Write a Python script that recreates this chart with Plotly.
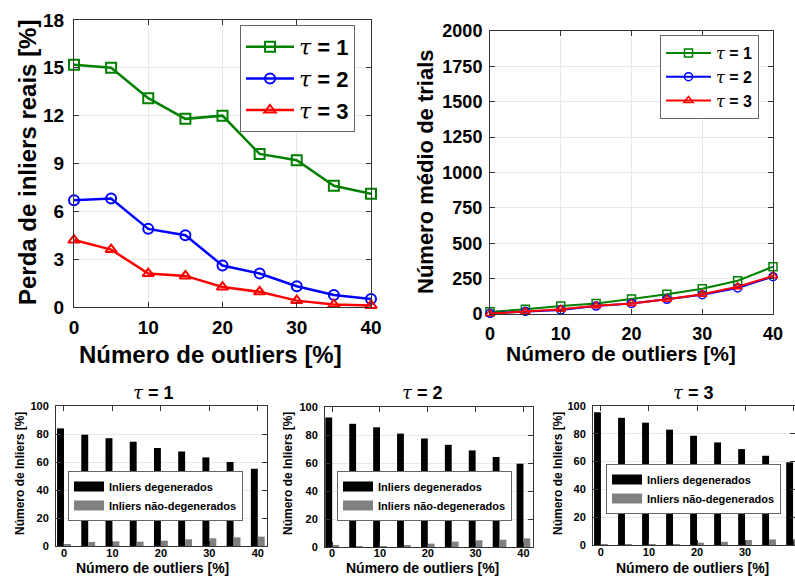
import plotly.graph_objects as go

# ---------------- data ----------------
outliers = [0, 5, 10, 15, 20, 25, 30, 35, 40]

loss_t1 = [15.2, 15.0, 13.1, 11.8, 12.0, 9.6, 9.2, 7.6, 7.1]
loss_t2 = [6.7, 6.8, 4.9, 4.5, 2.6, 2.1, 1.3, 0.75, 0.5]
loss_t3 = [4.2, 3.6, 2.1, 1.95, 1.25, 0.95, 0.4, 0.15, 0.1]

trials_t1 = [16, 33, 56, 75, 106, 139, 179, 235, 334]
trials_t2 = [5, 19, 28, 56, 75, 104, 136, 184, 264]
trials_t3 = [3, 16, 33, 59, 75, 104, 139, 193, 268]

deg_t1 = [84, 79.5, 77, 74.5, 70, 67.5, 63.3, 60, 55.2]
non_t1 = [1.4, 2.9, 3.3, 3.1, 3.8, 4.8, 5.5, 6.2, 6.7]
deg_t2 = [92.5, 88, 85.5, 81, 77.5, 73, 69, 64.3, 59.5]
non_t2 = [1.2, 0.5, 0.7, 1.4, 2.4, 3.8, 4.8, 5.2, 6.2]
deg_t3 = [95.5, 91.5, 88, 83, 78.6, 73.8, 69, 64.2, 59.5]
non_t3 = [0.2, 0.3, 0.3, 0.7, 1.7, 2.3, 3.6, 4.0, 4.2]

tau_labels = ["1", "2", "3"]
bar_names = ["Inliers degenerados", "Inliers não-degenerados"]
xtitle = "Número de outliers [%]"

# ---------------- style ----------------
FONT = "Liberation Sans, Arial, sans-serif"
W, H = 795, 580
GREEN, BLUE, RED = "rgb(0,128,0)", "rgb(0,0,255)", "rgb(255,0,0)"
BLACK_BAR, GRAY_BAR = "#000000", "#808080"
BAR_W = 1.43


def px(x0, x1):
    return [x0 / W, x1 / W]


def py(top, bottom):
    return [1 - bottom / H, 1 - top / H]


def tau(n):
    return ('<span style="font-family:DejaVu Serif;font-weight:normal"><i>τ</i></span>'
            f" = {n}")


def ax(domain, rng, dtick, fsize, anchor, grid=True, tickvals=None, standoff=None):
    d = dict(domain=domain, range=rng, anchor=anchor, showline=True, linecolor="#333",
             linewidth=1, mirror="allticks", ticks="inside", ticklen=5, tickcolor="#333",
             showgrid=grid, gridcolor="#e8e8e8", gridwidth=1, zeroline=False,
             tickfont=dict(family=FONT, size=fsize, color="black", weight="bold"),
             fixedrange=True, automargin=False)
    if standoff is not None:
        d["ticklabelstandoff"] = standoff
    if tickvals is not None:
        d["tickvals"] = tickvals
    else:
        d["dtick"] = dtick
        d["tick0"] = 0
    return d


fig = go.Figure()

# ---- top-left: loss of inliers ----
for vals, col, sym, lab in [(loss_t1, GREEN, "square-open", tau_labels[0]),
                            (loss_t2, BLUE, "circle-open", tau_labels[1]),
                            (loss_t3, RED, "triangle-up-open", tau_labels[2])]:
    fig.add_trace(go.Scatter(x=outliers, y=vals, mode="lines+markers", name=tau(lab),
                             line=dict(color=col, width=2.5),
                             marker=dict(symbol=sym, size=10, color=col, line=dict(width=2, color=col)),
                             xaxis="x", yaxis="y", legend="legend", cliponaxis=False))

# ---- top-right: trials ----
for vals, col, sym, lab in [(trials_t1, GREEN, "square-open", tau_labels[0]),
                            (trials_t2, BLUE, "circle-open", tau_labels[1]),
                            (trials_t3, RED, "triangle-up-open", tau_labels[2])]:
    fig.add_trace(go.Scatter(x=outliers, y=vals, mode="lines+markers", name=tau(lab),
                             line=dict(color=col, width=2),
                             marker=dict(symbol=sym, size=8, color=col, line=dict(width=1.5, color=col)),
                             xaxis="x2", yaxis="y2", legend="legend2", cliponaxis=False))

# ---- bottom bars ----
for i, (deg, non) in enumerate([(deg_t1, non_t1), (deg_t2, non_t2), (deg_t3, non_t3)]):
    xa, ya, lg = f"x{i + 3}", f"y{i + 3}", f"legend{i + 3}"
    fig.add_trace(go.Bar(x=outliers, y=deg, width=BAR_W, offset=-BAR_W, name=bar_names[0],
                         marker=dict(color=BLACK_BAR, line=dict(width=0)), showlegend=False,
                         xaxis=xa, yaxis=ya))
    fig.add_trace(go.Bar(x=outliers, y=non, width=BAR_W, offset=0, name=bar_names[1],
                         marker=dict(color=GRAY_BAR, line=dict(width=0)), showlegend=False,
                         xaxis=xa, yaxis=ya))
    for nm, col in zip(bar_names, [BLACK_BAR, GRAY_BAR]):
        fig.add_trace(go.Scatter(x=[None], y=[None], mode="lines", name=nm,
                                 line=dict(color=col, width=10), legend=lg,
                                 xaxis=xa, yaxis=ya))

xt = [0, 10, 20, 30, 40]
layout = dict(
    width=W, height=H, margin=dict(l=0, r=0, t=0, b=0, autoexpand=False),
    paper_bgcolor="white", plot_bgcolor="white", barmode="overlay",
    xaxis=ax(px(74, 371), [0, 40], 10, 19, "y", standoff=3),
    yaxis=ax(py(20, 307), [0, 18], 3, 19, "x", standoff=5),
    xaxis2=ax(px(490, 773), [0, 40], 10, 18, "y2", standoff=3),
    yaxis2=ax(py(31, 314), [0, 2000], 250, 18, "x2", standoff=3),
    xaxis3=ax(px(56, 267), [-1.65, 41.9], None, 11, "y3", grid=False, tickvals=xt, standoff=-3),
    yaxis3=ax(py(406, 546), [0, 100], 20, 11, "x3", standoff=4),
    xaxis4=ax(px(325, 533), [-1.5, 42.0], None, 11, "y4", grid=False, tickvals=xt, standoff=-4),
    yaxis4=ax(py(407, 547), [0, 100], 20, 11, "x4", standoff=4),
    xaxis5=ax(px(593, 795), [-1.65, 40.4], None, 11, "y5", grid=False, tickvals=xt, standoff=-3),
    yaxis5=ax(py(406, 545), [0, 100], 20, 11, "x5", standoff=4),
)


def leg(x, y, size, iw=30):
    return dict(x=x / W, y=1 - y / H, xanchor="left", yanchor="top", bgcolor="white",
                bordercolor="#666", borderwidth=1, tracegroupgap=0, itemwidth=iw,
                font=dict(family=FONT, size=size, color="black", weight="bold"))


layout["legend"] = leg(240, 25, 22, 48)
layout["legend2"] = leg(660, 35, 16, 45)
layout["legend3"] = leg(68, 471, 11)
layout["legend4"] = leg(337, 471, 11)
layout["legend5"] = leg(606, 464, 11)

ann = []


def text(x, y, s, size, angle=0):
    ann.append(dict(x=x / W, y=1 - y / H, xref="paper", yref="paper", text=s, showarrow=False,
                    xanchor="center", yanchor="middle", textangle=angle,
                    font=dict(family=FONT, size=size, color="black", weight="bold")))


text(28, 163, "Perda de inliers reais [%]", 24, -90)
text(210, 354, xtitle, 24)
text(426, 172, "Número médio de trials", 22, -90)
text(621, 353, xtitle, 21)
for cx, cy, yx, tx, lab in [(152, 568, 20, 153, "1"), (422, 568, 288, 422, "2"), (692, 568, 558, 693, "3")]:
    text(cx, cy, xtitle, 14)
    text(yx, 474, "Número de Inliers [%]", 12, -90)
    text(tx, 392, tau(lab), 18)

layout["annotations"] = ann
fig.update_layout(**layout)
fig.write_html("out.html",
               post_script="document.body.style.margin='0';document.body.style.overflow='hidden';")
